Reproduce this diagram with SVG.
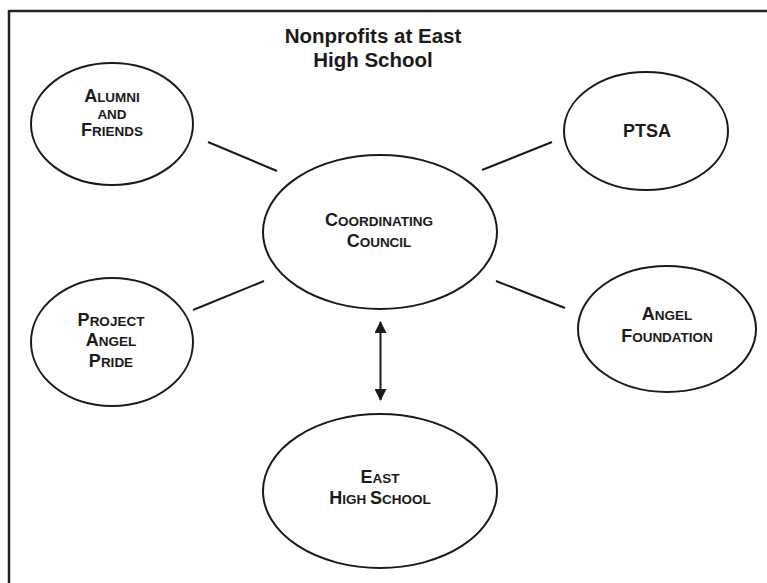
<svg xmlns="http://www.w3.org/2000/svg" width="767" height="583" viewBox="0 0 767 583">
<style>
.node ellipse{fill:#fff;stroke:#1a1a1a;stroke-width:2}
.lbl{font-family:"Liberation Sans",Arial,sans-serif;font-weight:bold;fill:#1a1a1a;text-anchor:middle;font-size:13.5px}
.big{font-size:18px}
.title{font-family:"Liberation Sans",Arial,sans-serif;font-weight:bold;fill:#1a1a1a;text-anchor:middle;font-size:20.5px}
.conn line{stroke:#1a1a1a;stroke-width:2}
</style>
<defs>
<marker id="ah" viewBox="0 0 12 12" refX="11" refY="6" markerWidth="12" markerHeight="12" markerUnits="userSpaceOnUse" orient="auto-start-reverse">
<path d="M0,0 L12,6 L0,12 z" fill="#1a1a1a"/>
</marker>
</defs>
<rect width="767" height="583" fill="#fff"/>
<g id="frame">
<line x1="9" y1="11" x2="767" y2="11" stroke="#222" stroke-width="2.5"/>
<line x1="9" y1="10" x2="9" y2="583" stroke="#222" stroke-width="2.5"/>
</g>
<g id="title">
<text class="title" x="373" y="43">Nonprofits at East</text>
<text class="title" x="373" y="67">High School</text>
</g>
<g class="conn" id="connectors">
<line x1="208" y1="142" x2="277" y2="171"/>
<line x1="482" y1="170" x2="552" y2="142"/>
<line x1="193" y1="310" x2="264" y2="281"/>
<line x1="496" y1="281" x2="565" y2="308"/>
<line x1="380.5" y1="322" x2="380.5" y2="400" marker-start="url(#ah)" marker-end="url(#ah)"/>
</g>
<g class="node" id="alumni">
<ellipse cx="112" cy="124" rx="81" ry="61"/>
<text class="lbl" x="112" y="102"><tspan class="big">A</tspan>LUMNI</text>
<text class="lbl" x="112" y="119">AND</text>
<text class="lbl" x="112" y="136"><tspan class="big">F</tspan>RIENDS</text>
</g>
<g class="node" id="ptsa">
<ellipse cx="646" cy="131" rx="82" ry="59"/>
<text class="lbl big" x="647" y="137">PTSA</text>
</g>
<g class="node" id="council">
<ellipse cx="380" cy="232" rx="117" ry="77"/>
<text class="lbl" x="379" y="226"><tspan class="big">C</tspan>OORDINATING</text>
<text class="lbl" x="379" y="247"><tspan class="big">C</tspan>OUNCIL</text>
</g>
<g class="node" id="project">
<ellipse cx="112" cy="342" rx="81" ry="64"/>
<text class="lbl" x="111" y="326"><tspan class="big">P</tspan>ROJECT</text>
<text class="lbl" x="111" y="346"><tspan class="big">A</tspan>NGEL</text>
<text class="lbl" x="111" y="367"><tspan class="big">P</tspan>RIDE</text>
</g>
<g class="node" id="angel">
<ellipse cx="667" cy="329" rx="89" ry="63"/>
<text class="lbl" x="667" y="320"><tspan class="big">A</tspan>NGEL</text>
<text class="lbl" x="667" y="342"><tspan class="big">F</tspan>OUNDATION</text>
</g>
<g class="node" id="east">
<ellipse cx="380" cy="491" rx="117" ry="77"/>
<text class="lbl" x="380" y="483"><tspan class="big">E</tspan>AST</text>
<text class="lbl" x="380" y="504"><tspan class="big">H</tspan>IGH <tspan class="big">S</tspan>CHOOL</text>
</g>
</svg>
